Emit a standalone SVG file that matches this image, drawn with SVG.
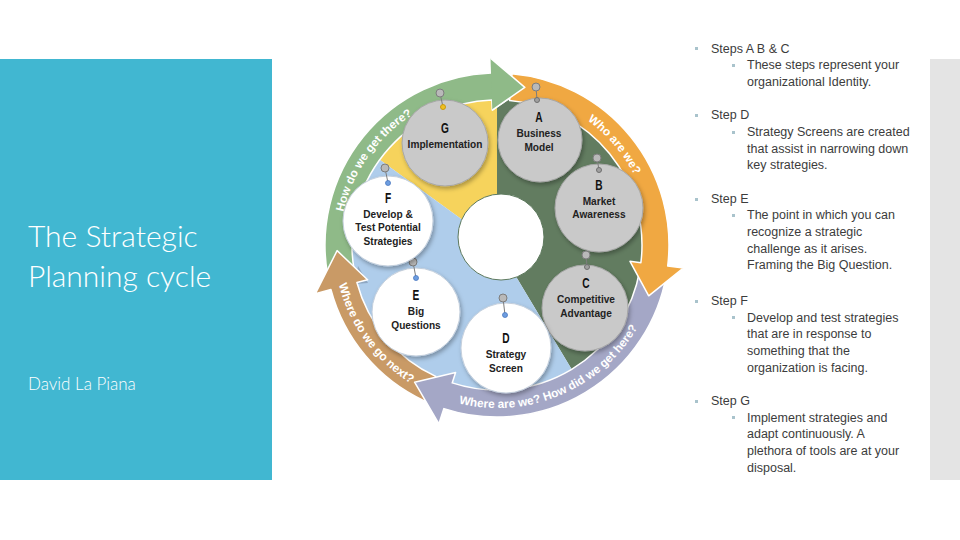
<svg xmlns="http://www.w3.org/2000/svg" width="960" height="540" viewBox="0 0 960 540">
<defs>
<style>
.bul{font-family:"Liberation Sans",Arial,sans-serif;font-size:12.5px;fill:#3c3c3c}
.sq{fill:#a9c3cc}
.ring{font-family:"Liberation Sans",Arial,sans-serif;font-size:11.8px;font-weight:bold;fill:#ffffff}
.lt{font-family:"Liberation Sans",Arial,sans-serif;font-size:14.5px;font-weight:bold;fill:#111;text-anchor:middle}
.lb{font-family:"Liberation Sans",Arial,sans-serif;font-size:11.5px;font-weight:bold;fill:#222;text-anchor:middle}
.gc{fill:#c9c9c9;stroke:#a7a7a7;stroke-width:1}
.wc{fill:#ffffff;stroke:#c4cfdc;stroke-width:1}
.arr{stroke:#ffffff;stroke-width:1.5;stroke-linejoin:round}
.pin{fill:#b9b9b9;stroke:#7d7d7d;stroke-width:1}
.pl{stroke:#7d7d7d;stroke-width:1}
</style>
<filter id="sh" x="-20%" y="-20%" width="140%" height="140%">
<feDropShadow dx="1.5" dy="2.5" stdDeviation="2" flood-color="#000" flood-opacity="0.3"/>
</filter>
<path id="pHow" d="M 340.4,258.7 A 154 154 0 0 1 455.7,96.6"/>
<path id="pWho" d="M 549.7,100.3 A 154 154 0 0 1 648.2,215.6"/>
<path id="pWhere" d="M 415.5,386.2 A 163 163 0 0 0 655.2,284.4"/>
<path id="pNext" d="M 338.8,205.6 A 163 163 0 0 0 485.6,407.6"/>
</defs>

<!-- left panel -->
<rect x="0" y="59" width="272" height="421" fill="#41b7d1"/>
<text x="28" y="247" font-family="Lato,'Liberation Sans',sans-serif" font-weight="300" font-size="30" fill="#ffffff">The Strategic</text>
<text x="28" y="287" font-family="Lato,'Liberation Sans',sans-serif" font-weight="300" font-size="30" fill="#ffffff">Planning cycle</text>
<text x="28" y="390" font-family="Lato,'Liberation Sans',sans-serif" font-weight="300" font-size="17" fill="#ffffff">David La Piana</text>

<!-- right gray bar -->
<rect x="930" y="59" width="30" height="421" fill="#e4e4e4"/>

<!-- background sectors -->
<g id="sectors">
<path d="M497,245 L497,98 A147 147 0 0 1 572.7,371 Z" fill="#627c60"/>
<path d="M497,245 L378.1,158.6 A147 147 0 0 1 497,98 Z" fill="#f6d35c"/>
<path d="M497,245 L572.7,371 A147 147 0 0 1 378.1,158.6 Z" fill="#afcdeb"/>
<polygon points="358,266 368,283 355,284" fill="#8ea7c2"/>
</g>

<!-- arrows -->
<g id="connectors">
<path class="arr" fill="#8fba88" d="M 327.6,274.9 A 172 172 0 0 1 491.0,73.1 L 490.5,58.1 L 524.8,87.4 L 492.3,110.1 L 491.9,100.1 A 145 145 0 0 0 354.2,270.2 Z"/>
<path class="arr" fill="#c99a66" d="M 424.3,400.9 A 172 172 0 0 1 330.9,289.5 L 315.4,293.7 L 337.1,250.6 L 367.6,279.7 L 356.9,282.5 A 145 145 0 0 0 435.7,376.4 Z"/>
<path class="arr" fill="#a4a7c6" d="M 666.4,274.9 A 172 172 0 0 1 443.9,408.6 L 438.9,423.8 L 414.6,382.2 L 455.6,372.4 L 452.2,382.9 A 145 145 0 0 0 639.8,270.2 Z"/>
<path class="arr" fill="#f0a842" d="M 512.0,73.7 A 172 172 0 0 1 667.7,266.0 L 683.6,267.9 L 648.7,295.8 L 630.0,261.3 L 640.9,262.7 A 145 145 0 0 0 509.6,100.6 Z"/>
<polygon fill="#8fba88" points="490.5,58.1 524.8,87.4 492.3,110.1"/>
<polyline class="arr" fill="none" points="490.5,58.1 524.8,87.4 492.3,110.1"/>
<text class="ring"><textPath href="#pHow" startOffset="50%" text-anchor="middle">How do we get there?</textPath></text>
<text class="ring"><textPath href="#pWho" startOffset="50%" text-anchor="middle">Who are we?</textPath></text>
<text class="ring"><textPath href="#pWhere" startOffset="50%" text-anchor="middle">Where are we? How did we get here?</textPath></text>
<text class="ring"><textPath href="#pNext" startOffset="50%" text-anchor="middle">Where do we go next?</textPath></text>
</g>

<!-- centre -->
<g id="center">
<circle cx="501" cy="237" r="43" fill="#ffffff" stroke="#5e7a5e" stroke-width="1"/>
</g>

<g id="nodeG">
<circle class="gc" cx="445" cy="143" r="43" filter="url(#sh)"/>
<line class="pl" x1="440" y1="93" x2="443" y2="107"/>
<circle class="pin" cx="440" cy="93" r="4"/>
<circle cx="443" cy="107" r="2.5" fill="#f0c020" stroke="#c89a10" stroke-width="1"/>
<text class="lt" transform="translate(445,133) scale(0.7,1)">G</text>
<g transform="translate(445,0) scale(0.88,1)">
<text class="lb" x="0" y="148.5">Implementation</text>
</g>
</g>

<g id="nodeA">
<circle class="gc" cx="540" cy="140" r="42" filter="url(#sh)"/>
<line class="pl" x1="536" y1="87" x2="537" y2="100"/>
<circle class="pin" cx="536" cy="87" r="4"/>
<circle cx="537" cy="100" r="2.5" fill="#a0a0a0" stroke="#6f6f6f" stroke-width="1"/>
<text class="lt" transform="translate(539,122) scale(0.7,1)">A</text>
<g transform="translate(539,0) scale(0.88,1)">
<text class="lb" x="0" y="137.5">Business</text>
<text class="lb" x="0" y="151">Model</text>
</g>
</g>

<g id="nodeB">
<circle class="gc" cx="599" cy="208" r="44" filter="url(#sh)"/>
<line class="pl" x1="597" y1="158" x2="599" y2="170"/>
<circle class="pin" cx="597" cy="158" r="4"/>
<circle cx="599" cy="170" r="2.5" fill="#a0a0a0" stroke="#6f6f6f" stroke-width="1"/>
<text class="lt" transform="translate(599,190) scale(0.7,1)">B</text>
<g transform="translate(599,0) scale(0.88,1)">
<text class="lb" x="0" y="205">Market</text>
<text class="lb" x="0" y="218.5">Awareness</text>
</g>
</g>

<g id="nodeC">
<circle class="gc" cx="585" cy="308" r="43" filter="url(#sh)"/>
<line class="pl" x1="586" y1="255" x2="587" y2="267"/>
<circle class="pin" cx="586" cy="255" r="4"/>
<circle cx="587" cy="267" r="2.5" fill="#a0a0a0" stroke="#6f6f6f" stroke-width="1"/>
<text class="lt" transform="translate(586,288) scale(0.7,1)">C</text>
<g transform="translate(586,0) scale(0.88,1)">
<text class="lb" x="0" y="303.5">Competitive</text>
<text class="lb" x="0" y="317">Advantage</text>
</g>
</g>

<g id="nodeD">
<circle class="wc" cx="506" cy="348" r="45" filter="url(#sh)"/>
<line class="pl" x1="503" y1="298" x2="505" y2="315"/>
<circle class="pin" cx="503" cy="298" r="4"/>
<circle cx="505" cy="315" r="2.5" fill="#6d9de0" stroke="#4a78c0" stroke-width="0.8"/>
<text class="lt" transform="translate(506,343) scale(0.7,1)">D</text>
<g transform="translate(506,0) scale(0.88,1)">
<text class="lb" x="0" y="358.5">Strategy</text>
<text class="lb" x="0" y="372">Screen</text>
</g>
</g>

<g id="nodeE">
<circle class="wc" cx="416" cy="312" r="44" filter="url(#sh)"/>
<line class="pl" x1="413" y1="262" x2="416" y2="278"/>
<circle class="pin" cx="413" cy="262" r="4"/>
<circle cx="416" cy="278" r="2.5" fill="#6d9de0" stroke="#4a78c0" stroke-width="0.8"/>
<text class="lt" transform="translate(416,300) scale(0.7,1)">E</text>
<g transform="translate(416,0) scale(0.88,1)">
<text class="lb" x="0" y="315.5">Big</text>
<text class="lb" x="0" y="329">Questions</text>
</g>
</g>

<g id="nodeF">
<circle class="wc" cx="388" cy="221" r="45" filter="url(#sh)"/>
<line class="pl" x1="385" y1="168" x2="388" y2="183"/>
<circle class="pin" cx="385" cy="168" r="4"/>
<circle cx="388" cy="183" r="2.5" fill="#6d9de0" stroke="#4a78c0" stroke-width="0.8"/>
<text class="lt" transform="translate(388,203) scale(0.7,1)">F</text>
<g transform="translate(388,0) scale(0.88,1)">
<text class="lb" x="0" y="218">Develop &amp;</text>
<text class="lb" x="0" y="231.5">Test Potential</text>
<text class="lb" x="0" y="245">Strategies</text>
</g>
</g>

<!-- bullet text -->
<g id="bullets">
<rect class="sq" x="695" y="47" width="3" height="3"/>
<text class="bul" x="711" y="52.5">Steps A B &amp; C</text>
<rect class="sq" x="732" y="64" width="3" height="3"/>
<text class="bul" x="747" y="69.3">These steps represent your</text>
<text class="bul" x="747" y="86">organizational Identity.</text>

<rect class="sq" x="695" y="114" width="3" height="3"/>
<text class="bul" x="711" y="119.3">Step D</text>
<rect class="sq" x="732" y="131" width="3" height="3"/>
<text class="bul" x="747" y="136">Strategy Screens are created</text>
<text class="bul" x="747" y="152.7">that assist in narrowing down</text>
<text class="bul" x="747" y="169.3">key strategies.</text>

<rect class="sq" x="695" y="198" width="3" height="3"/>
<text class="bul" x="711" y="202.7">Step E</text>
<rect class="sq" x="732" y="214" width="3" height="3"/>
<text class="bul" x="747" y="219.3">The point in which you can</text>
<text class="bul" x="747" y="236">recognize a strategic</text>
<text class="bul" x="747" y="252.7">challenge as it arises.</text>
<text class="bul" x="747" y="269.3">Framing the Big Question.</text>

<rect class="sq" x="695" y="300" width="3" height="3"/>
<text class="bul" x="711" y="305">Step F</text>
<rect class="sq" x="732" y="316" width="3" height="3"/>
<text class="bul" x="747" y="321.7">Develop and test strategies</text>
<text class="bul" x="747" y="338.3">that are in response to</text>
<text class="bul" x="747" y="355">something that the</text>
<text class="bul" x="747" y="371.7">organization is facing.</text>

<rect class="sq" x="695" y="400" width="3" height="3"/>
<text class="bul" x="711" y="405">Step G</text>
<rect class="sq" x="732" y="416" width="3" height="3"/>
<text class="bul" x="747" y="421.7">Implement strategies and</text>
<text class="bul" x="747" y="438.3">adapt continuously.  A</text>
<text class="bul" x="747" y="455">plethora of tools are at your</text>
<text class="bul" x="747" y="471.7">disposal.</text>
</g>
</svg>
